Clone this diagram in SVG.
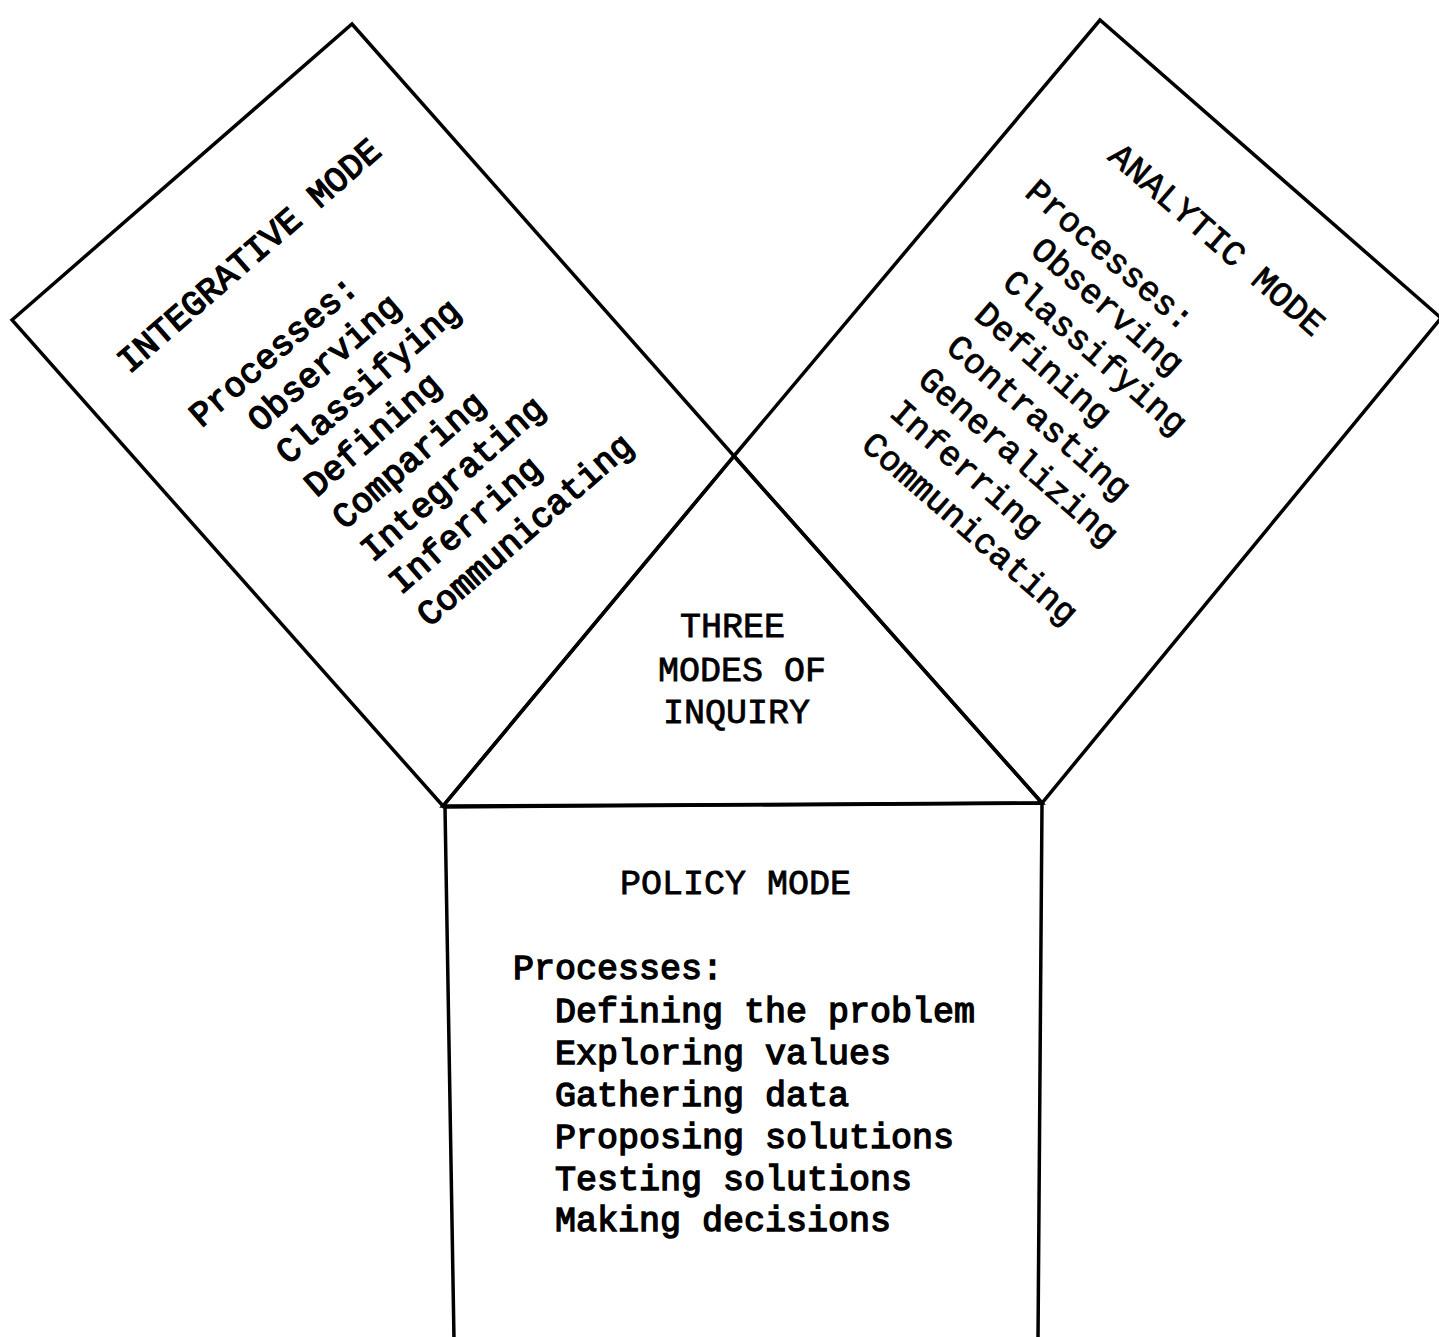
<svg xmlns="http://www.w3.org/2000/svg" width="1439" height="1337" viewBox="0 0 1439 1337">
<style>
.ln{fill:none;stroke:#000;stroke-width:3.5;stroke-linejoin:miter;stroke-linecap:round}
.t{font-family:"Liberation Mono","Courier New",monospace;font-size:35px;fill:#000}
.heavy{stroke:#000;stroke-width:1.4}
.light{stroke:#000;stroke-width:0.8}
</style>
<rect width="1439" height="1337" fill="#fff"/>
<g id="connectors">
<polygon id="integrative-outline" class="ln" points="12,320 352,24 734,456 443,806"/>
<polygon id="analytic-outline" class="ln" points="734,456 1100,20 1441,318 1042,803"/>
<polygon id="center-outline" class="ln" points="734,456 443,806 1042,803"/>
<polyline id="policy-outline" class="ln" points="454,1340 445,807 1042,803 1038,1340"/>
</g>
<g id="center">
<text class="t light" x="680" y="637">THREE</text>
<text class="t light" x="658" y="681">MODES OF</text>
<text class="t light" x="663" y="723">INQUIRY</text>
</g>
<g id="integrative" transform="translate(12,320) rotate(-41)">
<text class="t heavy" x="53" y="118">INTEGRATIVE MODE</text>
<text class="t heavy" x="72" y="206">Processes:</text>
<text class="t heavy" x="113" y="248">Observing</text>
<text class="t heavy" x="113" y="291">Classifying</text>
<text class="t heavy" x="113" y="334">Defining</text>
<text class="t heavy" x="113" y="377">Comparing</text>
<text class="t heavy" x="113" y="420">Integrating</text>
<text class="t heavy" x="113" y="463">Inferring</text>
<text class="t heavy" x="113" y="506">Communicating</text>
</g>
<g id="analytic" transform="translate(1100,20) rotate(41)">
<text class="t light" x="96" y="100">ANALYTIC MODE</text>
<text class="t light" x="57" y="182">Processes:</text>
<text class="t light" x="99" y="222">Observing</text>
<text class="t light" x="99" y="265">Classifying</text>
<text class="t light" x="99" y="308">Defining</text>
<text class="t light" x="99" y="351">Contrasting</text>
<text class="t light" x="99" y="394">Generalizing</text>
<text class="t light" x="99" y="437">Inferring</text>
<text class="t light" x="99" y="480">Communicating</text>
</g>
<g id="policy">
<text class="t light" x="620" y="894">POLICY MODE</text>
<text class="t heavy" x="513" y="979">Processes:</text>
<text class="t heavy" x="555" y="1022">Defining the problem</text>
<text class="t heavy" x="555" y="1064">Exploring values</text>
<text class="t heavy" x="555" y="1106">Gathering data</text>
<text class="t heavy" x="555" y="1148">Proposing solutions</text>
<text class="t heavy" x="555" y="1190">Testing solutions</text>
<text class="t heavy" x="555" y="1231">Making decisions</text>
</g>
</svg>
